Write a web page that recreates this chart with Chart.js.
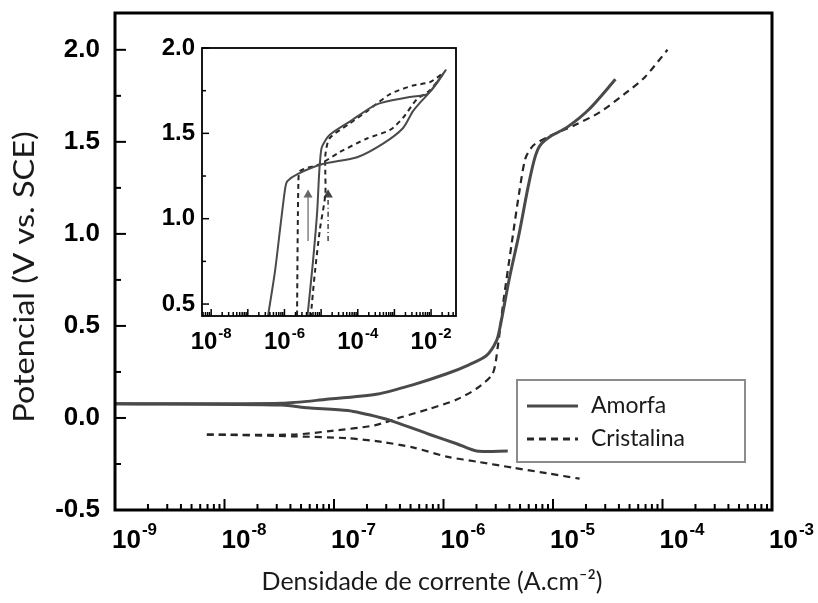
<!DOCTYPE html>
<html lang="pt">
<head>
<meta charset="UTF-8">
<title>Polarização - Amorfa x Cristalina</title>
<script src="https://cdn.jsdelivr.net/npm/chart.js"></script>
<style>
  body { margin: 0; background: #fff; }
  #wrap { position: relative; width: 818px; height: 603px; }
  #inset { position: absolute; left: 150px; top: 30px; }
</style>
</head>
<body>
<div id="wrap">
  <canvas id="main" width="818" height="603"></canvas>
  <canvas id="inset" width="320" height="340"></canvas>
</div>
<script>
// ---- main curves: current density (A/cm2) vs potential (V vs SCE)
const amorfaAnodI = [1e-9, 3.34e-8, 8.24e-8, 2.51e-7, 5.24e-7, 1.07e-6, 1.73e-6, 2.48e-6, 3.05e-6, 3.3e-6, 4.0e-6, 4.9e-6, 5.9e-6, 6.8e-6, 7.6e-6, 9.5e-6, 1.35e-5, 2.16e-5, 3.72e-5];
const amorfaAnodE = [0.077, 0.08, 0.10, 0.13, 0.18, 0.24, 0.29, 0.34, 0.42, 0.50, 0.76, 1.00, 1.25, 1.41, 1.48, 1.53, 1.58, 1.68, 1.84];
const amorfaCatI = [1e-9, 3.34e-8, 5.77e-8, 1.34e-7, 2.73e-7, 3.74e-7, 7.48e-7, 1.32e-6, 2.01e-6, 3.86e-6];
const amorfaCatE = [0.077, 0.07, 0.055, 0.04, 0.0, -0.025, -0.09, -0.14, -0.18, -0.18];
const cristAnodI = [6.9e-9, 4.38e-8, 9.55e-8, 2.35e-7, 4.16e-7, 7.48e-7, 1.32e-6, 2.01e-6, 2.81e-6, 3.12e-6, 3.5e-6, 4.2e-6, 4.9e-6, 5.6e-6, 6.6e-6, 9.2e-6, 1.57e-5, 2.66e-5, 4.5e-5, 6.86e-5, 1.11e-4];
const cristAnodE = [-0.09, -0.09, -0.07, -0.04, 0.005, 0.05, 0.10, 0.16, 0.24, 0.38, 0.62, 0.95, 1.22, 1.41, 1.48, 1.53, 1.59, 1.66, 1.76, 1.85, 2.0];
const cristCatI = [6.9e-9, 4.38e-8, 1.34e-7, 2.73e-7, 5.24e-7, 1.07e-6, 2.14e-6, 4.27e-6, 8.75e-6, 1.75e-5];
const cristCatE = [-0.09, -0.10, -0.11, -0.13, -0.16, -0.21, -0.24, -0.27, -0.30, -0.33];

// ---- inset (cyclic scans)
const insAmorfaI = [4.2e-6, 6e-6, 7.8e-6, 8.7e-6, 9.3e-6, 1.05e-5, 1.7e-5, 6.2e-5, 3.3e-4, 2.2e-3, 7.8e-3, 1.45e-2, 2.5e-2, 1.1e-2, 5e-3, 3.2e-3, 1.7e-3, 4.9e-4, 9.6e-5, 1.1e-5, 2.2e-6, 1.2e-6, 1.05e-6, 7.6e-7, 5.5e-7, 3.5e-7];
const insAmorfaE = [0.42, 0.75, 1.04, 1.24, 1.33, 1.42, 1.49, 1.57, 1.67, 1.71, 1.73, 1.80, 1.87, 1.76, 1.68, 1.63, 1.53, 1.44, 1.36, 1.32, 1.26, 1.22, 1.18, 0.94, 0.69, 0.42];
const insCristI = [5.2e-6, 5.6e-6, 6.8e-6, 9.3e-6, 1.3e-5, 1.3e-5, 1.3e-5, 1.7e-5, 6.2e-5, 1.8e-4, 7.6e-4, 3.2e-3, 9.3e-3, 2.1e-2, 9e-3, 4.1e-3, 1.7e-3, 7.6e-4, 1.8e-4, 3.2e-5, 9.3e-6, 2.7e-6, 2.4e-6, 2.2e-6];
const insCristE = [0.42, 0.50, 0.69, 0.94, 1.14, 1.28, 1.37, 1.47, 1.56, 1.63, 1.73, 1.78, 1.80, 1.85, 1.75, 1.70, 1.59, 1.52, 1.47, 1.39, 1.32, 1.28, 1.22, 0.42];
const arrowAI = [4.4e-6, 4.4e-6];
const arrowAE = [0.87, 1.14];
const arrowCI = [1.55e-5, 1.55e-5];
const arrowCE = [0.87, 1.14];

// ticks / labels
const mainXExps = [-9, -8, -7, -6, -5, -4, -3];
const mainYLabels = ['-0.5', '0.0', '0.5', '1.0', '1.5', '2.0'];
const mainYMinor = [-0.25, 0.25, 0.75, 1.25, 1.75];
const insXExps = [-8, -6, -4, -2];
const insYLabels = ['0.5', '1.0', '1.5', '2.0'];
const insYMinor = [0.75, 1.25, 1.75];
const seriesNames = ['Amorfa', 'Cristalina'];

const pts = (xs, ys) => xs.map((v, i) => ({ x: v, y: ys[i] }));

const SOLID = '#4a4a4a';
const DASH = '#262626';

// "10" with raised exponent; xShift 0.5 centres the label on the tick, 0 starts it there
function powLabel(ctx, px, top, exp, o) {
  ctx.font = o.xFont;
  const w = ctx.measureText('10').width;
  ctx.font = o.supFont;
  const we = ctx.measureText(exp).width;
  const x0 = px - (w + 1 + we) * o.xShift + o.xDx;
  ctx.textAlign = 'left';
  ctx.textBaseline = 'top';
  ctx.font = o.xFont;
  ctx.fillText('10', x0, top);
  ctx.font = o.supFont;
  ctx.fillText(exp, x0 + w + 1, top - o.supUp);
}

// frame, inward ticks and tick labels drawn from the chart scales
const axesPlugin = {
  id: 'axesPlugin',
  afterDatasetsDraw(chart, args, o) {
    const { ctx, chartArea: a } = chart;
    const xs = chart.scales.x, ys = chart.scales.y;
    ctx.save();
    ctx.strokeStyle = '#000';
    ctx.fillStyle = '#000';
    ctx.lineWidth = o.tickWidth;
    for (let e = o.xFrom; e <= o.xTo; e++) {
      for (let m = 1; m <= 9; m++) {
        const v = m * Math.pow(10, e);
        if (v < xs.min * 0.999 || v > xs.max * 1.001) continue;
        const px = xs.getPixelForValue(v);
        ctx.beginPath();
        ctx.moveTo(px, a.bottom);
        ctx.lineTo(px, a.bottom - (m === 1 ? o.majorLen : o.minorLen));
        ctx.stroke();
      }
    }
    o.yLabels.forEach(t => {
      const py = ys.getPixelForValue(parseFloat(t));
      if (py < a.top - 1) return;
      ctx.beginPath(); ctx.moveTo(a.left, py); ctx.lineTo(a.left + o.majorLen, py); ctx.stroke();
    });
    o.yMinor.forEach(v => {
      const py = ys.getPixelForValue(v);
      ctx.beginPath(); ctx.moveTo(a.left, py); ctx.lineTo(a.left + o.minorLen, py); ctx.stroke();
    });
    ctx.lineWidth = o.frameWidth;
    ctx.strokeRect(a.left, a.top, a.right - a.left, a.bottom - a.top);
    ctx.font = o.yFont;
    ctx.textAlign = 'right';
    ctx.textBaseline = 'middle';
    o.yLabels.forEach(t => {
      ctx.fillText(t, a.left - o.yGap, ys.getPixelForValue(parseFloat(t)));
    });
    o.xExps.forEach(e => {
      powLabel(ctx, xs.getPixelForValue(Math.pow(10, e)), a.bottom + o.xGap, '-' + Math.abs(e), o);
    });
    ctx.restore();
  }
};

// axis titles and boxed legend for the main chart
const mainDecor = {
  id: 'mainDecor',
  afterDraw(chart) {
    const { ctx } = chart;
    ctx.save();
    ctx.fillStyle = '#1a1a1a';
    ctx.textAlign = 'center';
    ctx.textBaseline = 'middle';
    ctx.font = '25px Lato';
    ctx.fillText('Densidade de corrente (A.cm\u207B\u00B2)', 432, 582);
    ctx.translate(25, 277);
    ctx.rotate(-Math.PI / 2);
    ctx.scale(1.12, 1);
    ctx.font = '29px Lato';
    ctx.fillText('Potencial (V vs. SCE)', 0, 0);
    ctx.restore();

    // legend
    ctx.save();
    ctx.strokeStyle = '#8c8c8c';
    ctx.lineWidth = 2;
    ctx.strokeRect(517, 380, 228, 82);
    const ds = chart.data.datasets;
    [0, 2].forEach((k, i) => {
      const yy = 406 + i * 33;
      ctx.strokeStyle = ds[k].borderColor;
      ctx.lineWidth = 3;
      ctx.setLineDash(ds[k].borderDash || []);
      ctx.beginPath(); ctx.moveTo(527, yy); ctx.lineTo(578, yy); ctx.stroke();
      ctx.setLineDash([]);
      ctx.fillStyle = '#1a1a1a';
      ctx.font = '23px Lato';
      ctx.textAlign = 'left';
      ctx.textBaseline = 'middle';
      ctx.fillText(seriesNames[i], 591, yy);
    });
    ctx.restore();
  }
};

const lineDs = (label, data, color, width, dash) => ({
  label, data, showLine: true, borderColor: color, borderWidth: width,
  borderDash: dash, pointRadius: 0, fill: false, tension: 0.25
});

new Chart(document.getElementById('main'), {
  type: 'scatter',
  data: {
    datasets: [
      lineDs('Amorfa', pts(amorfaAnodI, amorfaAnodE), SOLID, 3, []),
      lineDs('Amorfa', pts(amorfaCatI, amorfaCatE), SOLID, 3, []),
      lineDs('Cristalina', pts(cristAnodI, cristAnodE), DASH, 2.2, [7, 5]),
      lineDs('Cristalina', pts(cristCatI, cristCatE), DASH, 2.2, [7, 5])
    ]
  },
  options: {
    responsive: false,
    animation: false,
    layout: { padding: { left: 115, top: 13, right: 46, bottom: 93 } },
    scales: {
      x: { type: 'logarithmic', min: 1e-9, max: 1e-3, display: false },
      y: { type: 'linear', min: -0.5, max: 2.2, display: false }
    },
    plugins: {
      legend: { display: false },
      tooltip: { enabled: false },
      axesPlugin: {
        tickWidth: 2, majorLen: 11, minorLen: 6, frameWidth: 3,
        xFrom: -9, xTo: -4, xExps: mainXExps, yLabels: mainYLabels, yMinor: mainYMinor,
        yFont: 'bold 26px "Liberation Sans"', yGap: 15,
        xFont: 'bold 26px "Liberation Sans"', supFont: 'bold 17px "Liberation Sans"',
        xGap: 18, supUp: 6, xShift: 0, xDx: -3
      }
    }
  },
  plugins: [axesPlugin, mainDecor]
});

new Chart(document.getElementById('inset'), {
  type: 'scatter',
  data: {
    datasets: [
      lineDs('Amorfa', pts(insAmorfaI, insAmorfaE), SOLID, 2, []),
      lineDs('Cristalina', pts(insCristI, insCristE), DASH, 2, [5, 4]),
      Object.assign(lineDs('', pts(arrowAI, arrowAE), '#666', 1.2, []), { pointRadius: [0, 4], pointStyle: 'triangle', pointBackgroundColor: '#666' }),
      Object.assign(lineDs('', pts(arrowCI, arrowCE), '#444', 1.5, [5, 3, 1, 3]), { pointRadius: [0, 4], pointStyle: 'triangle', pointBackgroundColor: '#444' })
    ]
  },
  options: {
    responsive: false,
    animation: false,
    layout: { padding: { left: 52, top: 18, right: 14, bottom: 54 } },
    scales: {
      x: { type: 'logarithmic', min: Math.pow(10, -8.25), max: Math.pow(10, -1.32), display: false },
      y: { type: 'linear', min: 0.43, max: 2.0, display: false }
    },
    plugins: {
      legend: { display: false },
      tooltip: { enabled: false },
      axesPlugin: {
        tickWidth: 1.5, majorLen: 7, minorLen: 4, frameWidth: 1.8,
        xFrom: -9, xTo: -2, xExps: insXExps, yLabels: insYLabels, yMinor: insYMinor,
        yFont: 'bold 24px "Liberation Sans"', yGap: 7,
        xFont: 'bold 24px "Liberation Sans"', supFont: 'bold 15px "Liberation Sans"',
        xGap: 14, supUp: 4, xShift: 0.5, xDx: 0
      }
    }
  },
  plugins: [axesPlugin]
});
</script>
</body>
</html>
